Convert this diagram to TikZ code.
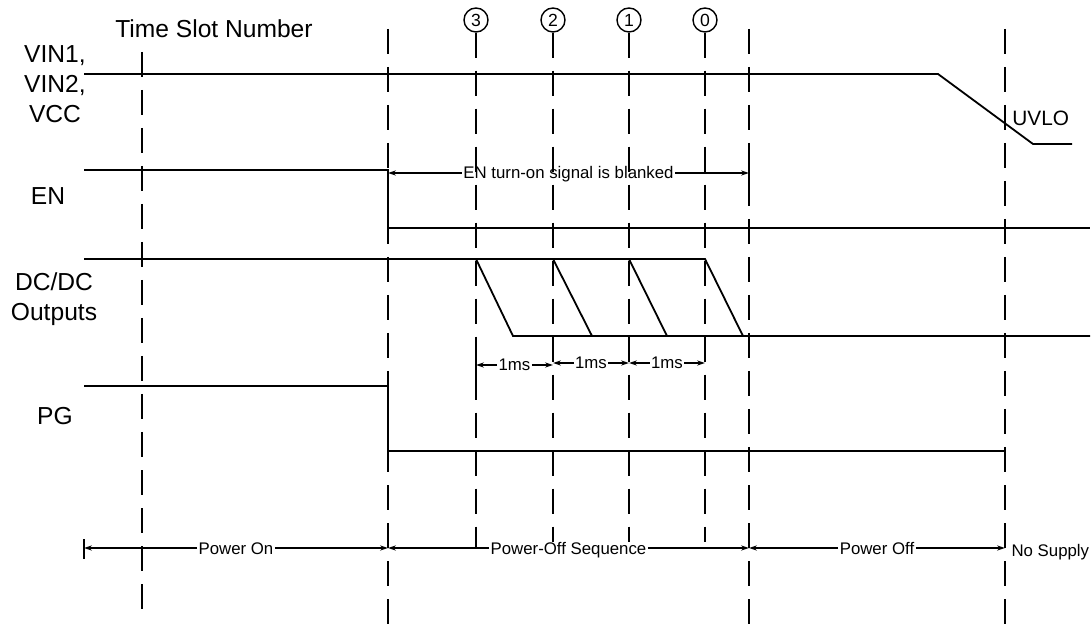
\documentclass[tikz,border=0pt]{standalone}
\usepackage{fontspec}
\setmainfont{Liberation Sans}
\usetikzlibrary{arrows.meta,calc,positioning}
\tikzset{
    sigline/.style={line width=0.9pt,draw=black},
    slotline/.style={line width=0.9pt,draw=black,dash pattern=on 12.5pt off 6.5pt},
    dimline/.style={line width=0.7pt,draw=black,-{Stealth[length=4pt,width=2.6pt]}},
    extline/.style={line width=0.8pt,draw=black},
    biglabel/.style={font=\fontsize{12.3}{15}\selectfont,inner sep=0pt},
    smalllabel/.style={font=\fontsize{8.4}{10}\selectfont,inner xsep=0.6pt,inner ysep=0pt,text height=6pt,text depth=0pt},
    slotnum/.style={circle,draw=black,line width=0.7pt,inner sep=0pt,minimum size=12pt,font=\fontsize{8.8}{10}\selectfont}
}
\begin{document}
\begin{tikzpicture}[x=0.5pt,y=-0.5pt]
  \useasboundingbox (0,0) rectangle (1092,625);

  % time slot markers
  \draw[slotline] (142,52) -- (142,620);
  \foreach \xx in {388,749,1005}{\draw[slotline] (\xx,29) -- (\xx,625);}
  \foreach \xx/\k in {476/3,553/2,629/1,705/0}{
    \node[slotnum] (n\k) at (\xx,20) {\k};
  }
  \draw[slotline] (n3.south) -- (476,548);
  \foreach \xx/\k in {553/2,629/1,705/0}{\draw[slotline] (n\k.south) -- (\xx,542);}

  % waveforms
  \draw[sigline] (84,74) -- (938,74) -- (1033,144) -- (1072,144);
  \draw[sigline] (84,170) -- (388,170) -- (388,228) -- (1090,228);
  \draw[sigline] (84,259) -- (705,259) -- (743,336) -- (1090,336);
  \draw[sigline] (476,259) -- (513,336) -- (743,336);
  \draw[sigline] (553,259) -- (592,336);
  \draw[sigline] (629,259) -- (667,336);
  \draw[sigline] (84,386) -- (388,386) -- (388,451) -- (1005,451);

  % signal names
  \node[biglabel,anchor=base] (title) at (214,38) {Time Slot Number};
  \node[biglabel,align=center] (vin) at (55,84) {VIN1,\\VIN2,\\VCC};
  \node[biglabel,anchor=base] (en) at (48,205) {EN};
  \node[biglabel,align=center] (dcdc) at (54,299) {DC/DC\\Outputs};
  \node[biglabel,anchor=base] (pg) at (55,424) {PG};
  \node[biglabel,font=\fontsize{10.4}{12}\selectfont,anchor=base west] (uvlo) at (1012,126) {UVLO};

  % EN blanking
  \coordinate (bl) at (388,173);
  \coordinate (br) at (749,173);
  \node[smalllabel] (blank) at ($(bl)!0.5!(br)$) {EN turn-on signal is blanked};
  \draw[dimline] (blank.west) -- (bl);
  \draw[dimline] (blank.east) -- (br);
  \draw[extline] (749,165) -- (749,202);

  % 1ms steps
  \foreach \a/\b/\yy [count=\i] in {476/553/365,553/629/363,629/705/363}{
    \coordinate (ma\i) at (\a,\yy);
    \coordinate (mb\i) at (\b,\yy);
    \node[smalllabel] (ms\i) at ($(ma\i)!0.5!(mb\i)$) {1ms};
    \draw[dimline] (ms\i.west) -- (ma\i);
    \draw[dimline] (ms\i.east) -- (mb\i);
  }
  \draw[extline] (476,356) -- (476,376);

  % phases
  \foreach \a/\b/\txt [count=\i] in {84/388/Power On,388/749/Power-Off Sequence,749/1005/Power Off}{
    \coordinate (pa\i) at (\a,548);
    \coordinate (pb\i) at (\b,548);
    \node[smalllabel] (ph\i) at ($(pa\i)!0.5!(pb\i)$) {\txt};
    \draw[dimline] (ph\i.west) -- (pa\i);
    \draw[dimline] (ph\i.east) -- (pb\i);
  }
  \draw[extline] (84,539) -- (84,559);
  \node[smalllabel,anchor=base west] (nosup) at (1010,556) {No Supply};
\end{tikzpicture}
\end{document}
